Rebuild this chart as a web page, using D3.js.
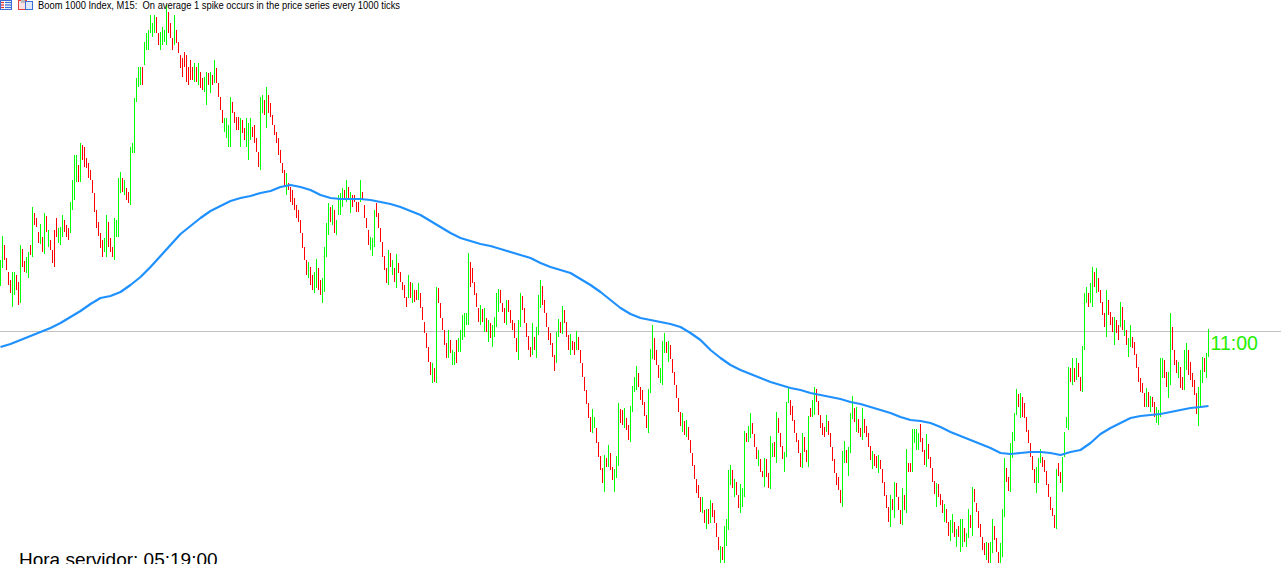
<!DOCTYPE html>
<html>
<head>
<meta charset="utf-8">
<script src="https://cdn.jsdelivr.net/npm/d3@7"></script>
<style>
  html, body { margin: 0; padding: 0; background: #fff; overflow: hidden; }
  svg { display: block; }
</style>
</head>
<body>
<div id="chart"></div>
<script>
const titleText = "Boom 1000 Index, M15:  On average 1 spike occurs in the price series every 1000 ticks";
const serverTimeText = "Hora servidor: 05:19:00";
const countdownText = "11:00";

// bar highs / lows (price points), one per M15 bar, oldest first
const barHigh = [
  340,364,355,342,328,320,328,328,325,318, 355,351,339,343,348,355,393,387,382,368,
  376,363,387,384,370,360,350,370,382,372, 373,385,380,375,372,398,420,445,445,435,
  457,455,453,442,437,430,420,407,390,378, 367,360,362,385,378,362,353,382,380,422,
  428,422,420,412,408,453,457,502,522,533, 533,533,558,567,570,585,577,585,583,567,
  568,573,570,595,588,577,562,585,570,558, 545,542,548,545,533,540,533,537,533,537,
  528,522,523,528,527,528,525,540,532,517, 503,490,482,482,475,503,498,488,483,483,
  482,480,472,482,477,482,473,475,462,448, 503,505,500,513,505,497,485,475,468,462,
  450,437,430,427,417,413,410,402,395,390, 380,367,353,340,338,333,325,328,341,332,
  320,322,353,377,397,393,395,390,380,405, 407,412,410,420,413,408,405,405,398,398,
  420,408,395,382,370,363,362,390,397,387, 372,358,344,332,350,347,340,332,346,337,
  328,318,315,303,325,318,317,310,310,317, 307,293,278,267,253,238,237,232,313,312,
  297,282,270,257,270,260,250,248,260,262, 270,285,287,287,347,338,332,318,307,292,
  295,291,292,282,280,277,275,283,307,311, 310,297,292,300,300,290,280,277,262,280,
  307,304,292,277,264,253,277,263,273,305, 320,314,300,287,273,267,257,245,268,281,
  278,294,290,278,265,266,259,258,269,263, 250,237,223,210,197,183,191,183,172,158,
  144,132,145,142,155,147,133,131,144,197, 191,190,192,182,175,194,214,223,234,227,
  213,210,198,185,211,251,275,262,250,235, 232,259,267,258,259,255,241,228,215,202,
  188,187,179,180,173,160,147,135,121,115, 103,103,90,91,91,100,97,90,77,63,
  54,53,74,81,130,135,130,121,118,105, 116,112,169,167,174,187,177,166,153,150,
  141,129,142,141,127,164,157,158,188,182, 167,154,148,198,212,200,194,180,167,160,
  147,167,163,150,184,192,200,213,211,199, 185,177,173,185,179,167,153,141,127,123,
  110,149,159,150,153,187,204,192,193,181, 172,192,181,174,167,154,149,146,144,145,
  140,131,118,105,93,105,101,118,117,103, 90,112,105,151,137,137,171,171,171,167,
  176,162,150,166,156,143,132,119,117,116, 106,100,96,91,78,80,86,78,71,74,
  81,81,72,67,91,85,113,111,97,89, 76,63,57,58,57,58,81,74,62,48,
  57,91,142,132,123,157,168,187,211,206, 207,203,197,183,170,157,144,131,133,142,
  151,143,140,129,116,103,92,85,131,137, 128,143,168,183,233,232,242,232,242,237,
  223,254,307,313,307,317,333,328,332,322, 310,298,287,310,300,288,283,283,280,275,
  298,293,280,270,262,275,263,258,246,233, 222,217,207,212,208,204,203,198,193,190,
  242,242,240,228,228,287,273,250,240,238, 233,223,250,257,250,238,227,220,207,213,
  230,243,242,247,271
];

const barLow = [
  314,332,340,330,315,307,293,305,310,295, 297,333,328,327,322,345,343,375,373,357,
  356,348,346,368,353,350,337,333,363,357, 355,363,368,363,360,367,390,400,418,418,
  418,440,433,432,422,420,407,388,372,364, 352,343,348,343,353,348,343,340,363,363,
  407,408,405,400,397,395,447,447,498,513, 515,515,535,550,550,567,563,567,567,555,
  550,555,558,555,567,562,550,555,557,547, 532,523,533,518,515,520,520,518,518,515,
  512,510,508,495,515,507,515,517,517,503, 490,477,468,462,453,453,487,477,470,470,
  453,467,460,453,440,460,463,457,448,433, 430,487,485,472,487,483,475,465,457,445,
  437,427,413,405,410,398,395,390,382,378, 367,352,340,325,322,315,310,307,312,310,
  305,297,308,343,365,378,375,367,365,385, 385,393,402,398,400,387,393,398,388,388,
  398,400,382,372,355,350,344,353,383,372, 358,343,330,317,315,333,325,318,312,327,
  318,310,302,293,302,302,297,298,300,300, 292,280,267,252,238,225,217,218,217,297,
  282,270,255,242,242,247,235,235,237,248, 248,260,263,275,275,313,317,305,293,278,
  275,278,268,268,258,262,253,263,273,288, 297,288,277,275,288,277,270,262,248,240,
  273,290,277,263,250,243,245,250,242,265, 292,295,287,273,260,255,243,229,237,263,
  267,266,277,263,250,245,250,245,250,250, 237,223,209,196,182,168,167,172,157,143,
  130,117,108,133,133,130,120,108,122,134, 177,175,172,170,160,158,188,208,210,213,
  200,195,184,172,167,207,241,240,235,222, 217,215,247,247,238,241,227,215,202,188,
  174,168,165,163,160,147,134,121,107,102, 88,87,77,71,76,77,83,77,63,50,
  37,40,37,54,70,115,112,103,105,92, 87,93,103,158,158,162,166,153,141,134,
  128,123,113,123,112,111,143,143,137,167, 153,141,128,143,197,185,179,167,158,147,
  133,132,148,138,133,183,183,185,198,185, 172,165,163,168,165,153,139,127,115,110,
  97,93,137,137,124,147,181,178,168,167, 163,160,167,163,153,140,131,134,132,127,
  131,117,104,92,78,73,90,82,103,90, 76,75,90,87,128,128,128,157,150,150,
  158,148,135,133,141,132,118,106,93,103, 95,87,78,77,64,59,67,63,53,63,
  48,53,58,53,62,72,64,98,88,72, 63,50,45,40,37,37,47,60,48,37,
  37,43,83,118,109,108,142,159,185,193, 182,183,182,168,157,143,130,117,107,117,
  137,133,128,115,103,90,84,72,71,124, 117,108,143,172,170,218,215,218,220,223,
  209,208,250,297,293,297,293,313,307,308, 297,285,273,263,285,275,268,255,267,260,
  273,270,264,255,243,253,252,245,232,218, 208,207,193,193,193,188,193,183,177,175,
  183,222,222,213,202,215,250,235,227,222, 212,210,210,230,225,220,213,205,186,174,
  192,217,228,222,243
];

// u = bull bar, d = bear bar, in groups of ten
const barDirGroups = [
  "uudddduudd","udduududdd","udududdddu","uuddduuuud","uddddddddd","dduuddduuu",
  "ududduuuuu","uduuuuuudd","uuuudddudd","dddddddudu","dduudududd","dduuuudddd",
  "udduuudddd","uududddddd","dddudddddd","ddddudduud","duuuududuu","uudududddd",
  "udddduuudd","ddddududud","ddddududdu","ddddddudud","dddduduudu","uuuuuddddd",
  "udududuuuu","dddudddddu","uddddduduu","uddddddduu","duddduddud","dddddduudd",
  "ddududduuu","ddudduuuud","dddduuuddd","uuududdddd","dududddddd","dudududddd",
  "uduuuududd","uuuduudddu","ddudduudud","dduuuddddd","dudduduudd","dddudddddd",
  "duuduuudud","dudddduddu","dddddududd","dududduuuu","ddduddddud","ddudduudud",
  "uuduududdd","ddduduuddd","uuudduuuud","uddddddduu","udddddddud","duuuududud",
  "duuuduudud","dddudddudd","ududuudddd","dddududduu","uudduudddu","dduudddddu",
  "uuduu"
];

// moving average, read every 5th bar (and the last bar)
const maValues = [
  253,256,260,264,268,272,277,283,289,296, 302,304,308,315,323,333,344,355,366,374,
  382,389,394,399,402,404,407,409,413,415, 413,410,405,402,401,401,401,400,398,396,
  393,389,385,379,373,367,362,359,356,354, 351,348,345,342,337,333,330,327,321,315,
  308,300,292,286,282,280,278,276,273,267, 260,250,242,235,230,226,222,218,215,212,
  210,207,205,203,201,198,196,193,190,187, 183,180,179,177,173,168,164,160,156,152,
  147,146,147,148,148,147,145,148,150,157, 166,172,177,182,184,185,186,188,190,192,
  193,194
];

const bidPrice = 269;

const width = 1281;
const height = 564;
const barSpacing = 2;

const barDir = barDirGroups.join("").split("");
const barIdx = d3.range(barHigh.length);
const maBars = d3.range(0, barHigh.length - 4, 5).concat([barHigh.length - 1]);

const svg = d3.select("#chart")
  .append("svg")
  .attr("width", width)
  .attr("height", height);

const x = d3.scaleLinear()
  .domain([0, barHigh.length - 1])
  .range([0.5, (barHigh.length - 1) * barSpacing + 0.5]);

const y = d3.scaleLinear()
  .domain([36, 600])
  .range([height, 0]);

// bid line
svg.append("line")
  .attr("x1", 0)
  .attr("x2", width)
  .attr("y1", Math.floor(y(bidPrice)) + 0.5)
  .attr("y2", Math.floor(y(bidPrice)) + 0.5)
  .attr("stroke", "#c0c0c0")
  .attr("stroke-width", 1)
  .attr("shape-rendering", "crispEdges");

// bars
svg.append("g")
  .attr("class", "bars")
  .selectAll("line")
  .data(barIdx)
  .join("line")
  .attr("x1", i => x(i))
  .attr("x2", i => x(i))
  .attr("y1", i => y(barHigh[i]))
  .attr("y2", i => y(barLow[i]))
  .attr("stroke", i => barDir[i] === "u" ? "#00ff00" : "#ff0000")
  .attr("stroke-width", 1)
  .attr("shape-rendering", "crispEdges");

// moving average
const maLine = d3.line()
  .x((d, i) => x(maBars[i]))
  .y(d => y(d));

svg.append("path")
  .datum(maValues)
  .attr("d", maLine)
  .attr("fill", "none")
  .attr("stroke", "#1e90ff")
  .attr("stroke-width", 2.2)
  .attr("stroke-linejoin", "round");

// countdown label next to the last bar
svg.append("text")
  .attr("x", x(barHigh.length - 1) + 2)
  .attr("y", 350)
  .attr("font-family", "Liberation Sans, Arial, sans-serif")
  .attr("font-size", "19.5px")
  .attr("fill", "#22ee00")
  .text(countdownText);

// server time
svg.append("text")
  .attr("x", 19)
  .attr("y", 566)
  .attr("font-family", "Liberation Sans, Arial, sans-serif")
  .attr("font-size", "19px")
  .attr("fill", "#000")
  .text(serverTimeText);

// header icons
const icons = svg.append("g").attr("class", "icons");
icons.append("rect").attr("x", 0.5).attr("y", 0.5).attr("width", 11).attr("height", 9)
  .attr("fill", "#fff").attr("stroke", "#3b6fd6");
[2.5, 5, 7.5].forEach(ly => {
  icons.append("line").attr("x1", 1).attr("x2", 4).attr("y1", ly).attr("y2", ly)
    .attr("stroke", "#e03030").attr("stroke-width", 1.3);
  icons.append("line").attr("x1", 5).attr("x2", 11).attr("y1", ly).attr("y2", ly)
    .attr("stroke", "#3b6fd6").attr("stroke-width", 1.3);
});
icons.append("rect").attr("x", 18.5).attr("y", 0.5).attr("width", 8).attr("height", 9)
  .attr("fill", "#fbe3e3").attr("stroke", "#e04040");
icons.append("rect").attr("x", 21).attr("y", 0).attr("width", 4).attr("height", 3)
  .attr("fill", "#bbb");
icons.append("rect").attr("x", 25.5).attr("y", 1.5).attr("width", 7).attr("height", 8)
  .attr("fill", "#dfe8f8").attr("stroke", "#3b6fd6");

// title
svg.append("text")
  .attr("x", 38)
  .attr("y", 9)
  .attr("font-family", "Liberation Sans, Arial, sans-serif")
  .attr("font-size", "10px")
  .attr("fill", "#000")
  .attr("textLength", 362)
  .attr("lengthAdjust", "spacingAndGlyphs")
  .style("white-space", "pre")
  .text(titleText);
</script>
</body>
</html>
